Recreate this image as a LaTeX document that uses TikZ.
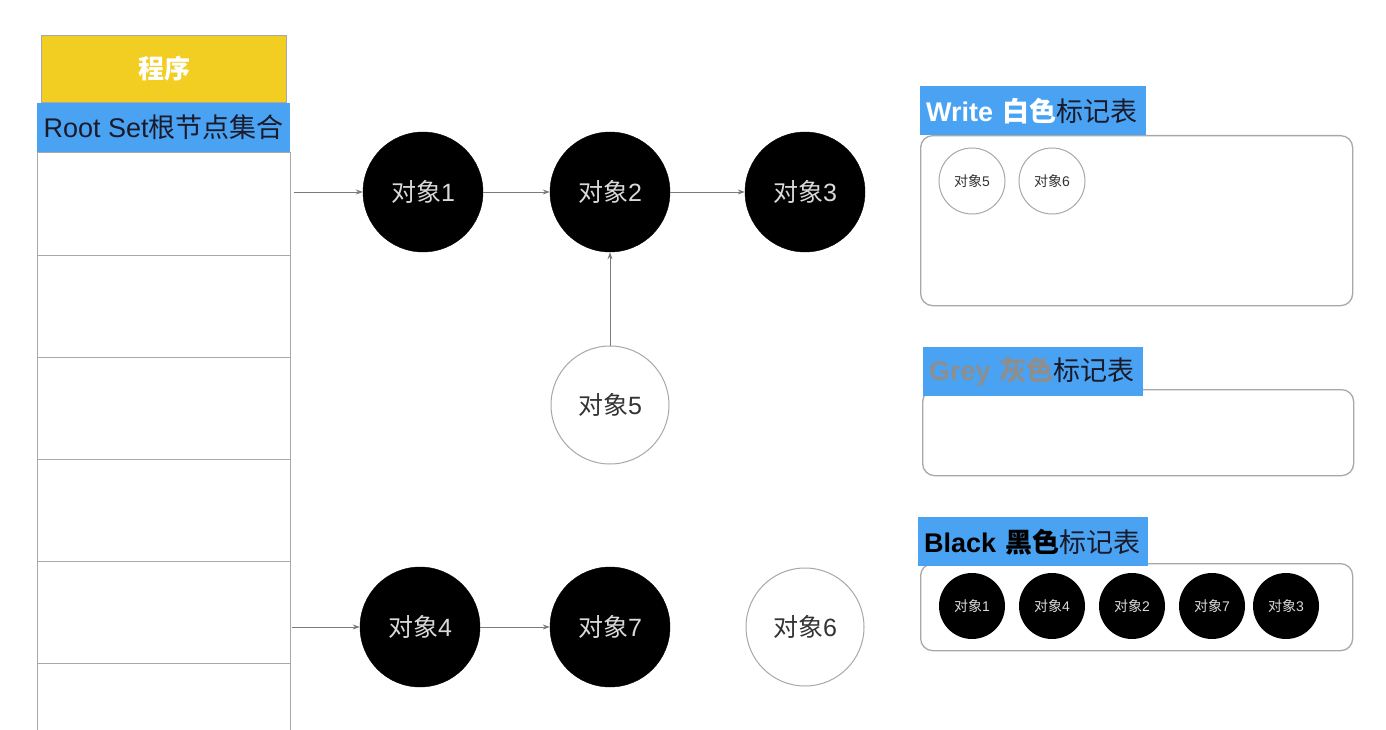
\documentclass[tikz,border=0pt]{standalone}
\usepackage{fontspec}
\setmainfont{Liberation Sans}
\newfontfamily\cjkfam{Noto Sans CJK SC}
\newcommand{\zhtxt}[1]{{\cjkfam #1}}
\usetikzlibrary{arrows.meta}
\definecolor{lblblue}{HTML}{4AA3F2}
\definecolor{progyellow}{HTML}{F2CE22}
\definecolor{linegrey}{HTML}{A8A8A8}
\definecolor{arrgrey}{HTML}{7A7A7A}
\definecolor{txtgrey}{HTML}{DADADA}
\definecolor{greytxt}{HTML}{8E8E8E}
\definecolor{darktxt}{HTML}{1A1A2A}
\tikzset{
  blackobj/.style={circle,fill=black,draw=black,minimum size=120pt,inner sep=0pt,text=txtgrey,font=\fontsize{25pt}{27pt}\selectfont},
  whiteobj/.style={circle,fill=white,draw=linegrey,line width=1pt,minimum size=118pt,inner sep=0pt,text=black!80,font=\fontsize{25pt}{27pt}\selectfont},
  smallblack/.style={circle,fill=black,minimum size=66pt,inner sep=0pt,text=txtgrey,font=\fontsize{14pt}{15pt}\selectfont},
  smallwhite/.style={circle,fill=white,draw=linegrey,line width=1pt,minimum size=66pt,inner sep=0pt,text=black!80,font=\fontsize{14pt}{15pt}\selectfont},
  cellbox/.style={rectangle,draw=linegrey,line width=1.2pt,minimum width=253pt,inner sep=0pt,anchor=north west},
  tablebox/.style={rectangle,rounded corners=12pt,draw=linegrey,line width=1.3pt,anchor=north west,inner sep=0pt},
  tablelbl/.style={rectangle,fill=lblblue,anchor=north west,inner ysep=0pt,inner xsep=6pt,minimum height=49pt,align=left,font=\fontsize{27pt}{29pt}\selectfont,text=darktxt},
  conn/.style={draw=arrgrey,line width=0.8pt,-{Stealth[length=7pt,width=5pt]}}
}
\begin{document}
\begin{tikzpicture}[x=1pt,y=-1pt]
\useasboundingbox (0,0) rectangle (1386,730);
\fill[white] (0,0) rectangle (1386,730);

% left column
\node[rectangle,fill=progyellow,draw=linegrey,line width=1pt,minimum width=245pt,minimum height=67pt,anchor=north west,inner sep=0pt,text=white,font=\fontsize{26pt}{28pt}\selectfont\bfseries] (prog) at (41,35) {\zhtxt{程序}};
\node[cellbox,minimum height=103pt] (cell1) at (37,152) {};
\node[cellbox,minimum height=102pt] (cell2) at (37,255) {};
\node[cellbox,minimum height=102pt] (cell3) at (37,357) {};
\node[cellbox,minimum height=102pt] (cell4) at (37,459) {};
\node[cellbox,minimum height=102pt] (cell5) at (37,561) {};
\node[cellbox,minimum height=102pt] (cell6) at (37,663) {};
\node[rectangle,fill=lblblue,minimum width=253pt,minimum height=49pt,anchor=north west,inner sep=0pt,text=darktxt,font=\fontsize{27pt}{29pt}\selectfont] (root) at (37,103) {Root Set\zhtxt{根节点集合}};

% objects
\node[blackobj] (o1) at (423,192) {\zhtxt{对象}1};
\node[blackobj] (o2) at (610,192) {\zhtxt{对象}2};
\node[blackobj] (o3) at (805,192) {\zhtxt{对象}3};
\node[whiteobj] (o5) at (610,405) {\zhtxt{对象}5};
\node[blackobj] (o4) at (420,627) {\zhtxt{对象}4};
\node[blackobj] (o7) at (610,627) {\zhtxt{对象}7};
\node[whiteobj] (o6) at (805,627) {\zhtxt{对象}6};

\coordinate (r1) at (294,192);
\coordinate (r2) at (292,627);
\draw[conn] (r1) -- (o1);
\draw[conn] (o1) -- (o2);
\draw[conn] (o2) -- (o3);
\draw[conn] (o5) -- (o2);
\draw[conn] (r2) -- (o4);
\draw[conn] (o4) -- (o7);

% white table
\node[tablebox,minimum width=432pt,minimum height=170pt] (wtab) at (920,135) {};
\node[tablelbl,text width=214pt] (wlbl) at (920,86) {\textcolor{white}{\bfseries Write \zhtxt{白色}}\zhtxt{标记表}};
\node[smallwhite] (w5) at (972,181) {\zhtxt{对象}5};
\node[smallwhite] (w6) at (1052,181) {\zhtxt{对象}6};

% grey table
\node[tablebox,minimum width=431pt,minimum height=86pt] (gtab) at (922,389) {};
\node[tablelbl,text width=208pt] (glbl) at (923,347) {\textcolor{greytxt}{\bfseries Grey \zhtxt{灰色}}\zhtxt{标记表}};

% black table
\node[tablebox,minimum width=432pt,minimum height=87pt] (btab) at (920,563) {};
\node[tablelbl,text width=218pt] (blbl) at (918,517) {\textcolor{black}{\bfseries Black \zhtxt{黑色}}\zhtxt{标记表}};
\node[smallblack] (b1) at (972,606) {\zhtxt{对象}1};
\node[smallblack] (b4) at (1052,606) {\zhtxt{对象}4};
\node[smallblack] (b2) at (1132,606) {\zhtxt{对象}2};
\node[smallblack] (b7) at (1212,606) {\zhtxt{对象}7};
\node[smallblack] (b3) at (1286,606) {\zhtxt{对象}3};
\end{tikzpicture}
\end{document}
